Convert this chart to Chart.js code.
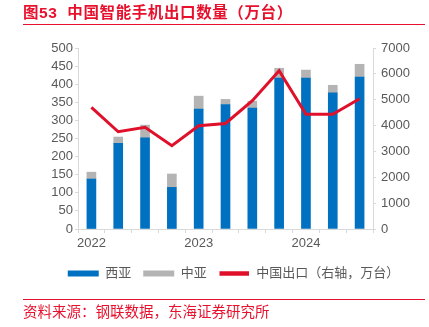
<!DOCTYPE html>
<html>
<head>
<meta charset="utf-8">
<script src="https://cdn.jsdelivr.net/npm/chart.js@4"></script>
<style>
html,body{margin:0;padding:0;background:#fff;}
#wrap{position:relative;width:429px;height:327px;overflow:hidden;font-family:"Liberation Sans","Noto Sans CJK SC",sans-serif;}
#c{position:absolute;left:0;top:0;}
#title{position:absolute;left:23px;top:3px;font-size:15.5px;font-weight:bold;color:#E8112D;white-space:nowrap;line-height:20px;letter-spacing:0.6px;}
#tline{position:absolute;left:23px;top:24px;width:402px;height:1px;background:#E8112D;}
#fline{position:absolute;left:23px;top:299px;width:402px;height:1px;background:#E8112D;}
#foot{position:absolute;left:23px;top:302px;font-size:14.5px;color:#E8112D;white-space:nowrap;line-height:20px;}
</style>
</head>
<body>
<div id="wrap">
<canvas id="c" width="429" height="327"></canvas>
<div id="title">图53&nbsp;&nbsp;中国智能手机出口数量（万台）</div>
<div id="tline"></div>
<div id="fline"></div>
<div id="foot">资料来源：钢联数据，东海证券研究所</div>
</div>
<script>
const categories = ["2022Q1","2022Q2","2022Q3","2022Q4","2023Q1","2023Q2","2023Q3","2023Q4","2024Q1","2024Q2","2024Q3"];
const westAsia = [138, 237, 252, 115, 331, 344, 334, 417, 417, 376, 420];
const centralAsia = [19, 17, 35, 37, 36, 14, 19, 27, 22, 21, 35];
const chinaExport = [4700, 3760, 3930, 3220, 3990, 4080, 4960, 6120, 4440, 4440, 5040];
const leftTicks = [0, 500, 50];
const rightTicks = [0, 7000, 1000];

const axisColor = "#D9D9D9";
const tickFont = {family: "'Liberation Sans','Noto Sans CJK SC',sans-serif", size: 13};
const tickColor = "#595959";

const legendShift = {
  id: "legendShift",
  afterLayout(chart) {
    const lg = chart.legend;
    if (lg) { lg.left += 19; lg.right += 19; }
  }
};

new Chart(document.getElementById("c"), {
  data: {
    labels: categories,
    datasets: [
      {type: "bar", label: "西亚", data: westAsia, backgroundColor: "#0070C0", barThickness: 9, yAxisID: "y", stack: "s"},
      {type: "bar", label: "中亚", data: centralAsia, backgroundColor: "#B4B4B4", barThickness: 9, yAxisID: "y", stack: "s"},
      {type: "line", label: "中国出口（右轴，万台）", data: chinaExport, borderColor: "#E0102A", backgroundColor: "#E0102A",
       borderWidth: 3, pointRadius: 0, tension: 0, yAxisID: "y1", order: -1}
    ]
  },
  plugins: [legendShift],
  options: {
    responsive: false,
    animation: false,
    layout: {padding: {top: 48, bottom: 37, left: 0, right: 0}},
    plugins: {
      tooltip: {enabled: false},
      legend: {
        position: "bottom",
        labels: {
          boxWidth: 31, boxHeight: 6, padding: 12,
          font: {family: "'Liberation Sans','Noto Sans CJK SC',sans-serif", size: 13},
          color: tickColor,
          sort: (a, b) => a.datasetIndex - b.datasetIndex,
          generateLabels: (chart) => chart.data.datasets.map((ds, i) => ({
            text: ds.label,
            fillStyle: ds.type === "line" ? ds.borderColor : ds.backgroundColor,
            strokeStyle: "#ffffff",
            lineWidth: ds.type === "line" ? 1.5 : 0,
            datasetIndex: i,
            hidden: false,
            fontColor: tickColor
          }))
        }
      }
    },
    scales: {
      x: {
        stacked: true,
        offset: true,
        grid: {display: true, drawOnChartArea: false, offset: true, tickLength: 4, color: axisColor},
        border: {color: axisColor},
        ticks: {
          autoSkip: false, maxRotation: 0, padding: 3, font: tickFont, color: tickColor,
          callback: function(v, i) { return i % 4 === 0 ? categories[i].slice(0, 4) : ""; }
        },
        afterFit: (s) => { s.height = 26; }
      },
      y: {
        stacked: true,
        position: "left",
        min: leftTicks[0], max: leftTicks[1],
        ticks: {stepSize: leftTicks[2], autoSkip: false, font: tickFont, color: tickColor, padding: 2},
        grid: {drawOnChartArea: false, tickLength: 3, color: axisColor},
        border: {color: axisColor},
        afterFit: (s) => { s.width = 78; }
      },
      y1: {
        position: "right",
        min: rightTicks[0], max: rightTicks[1],
        ticks: {stepSize: rightTicks[2], autoSkip: false, font: tickFont, color: tickColor, padding: 5,
                callback: (v) => String(v)},
        grid: {drawOnChartArea: false, tickLength: 3, color: axisColor},
        border: {color: axisColor},
        afterFit: (s) => { s.width = 56; }
      }
    }
  }
});
</script>
</body>
</html>
